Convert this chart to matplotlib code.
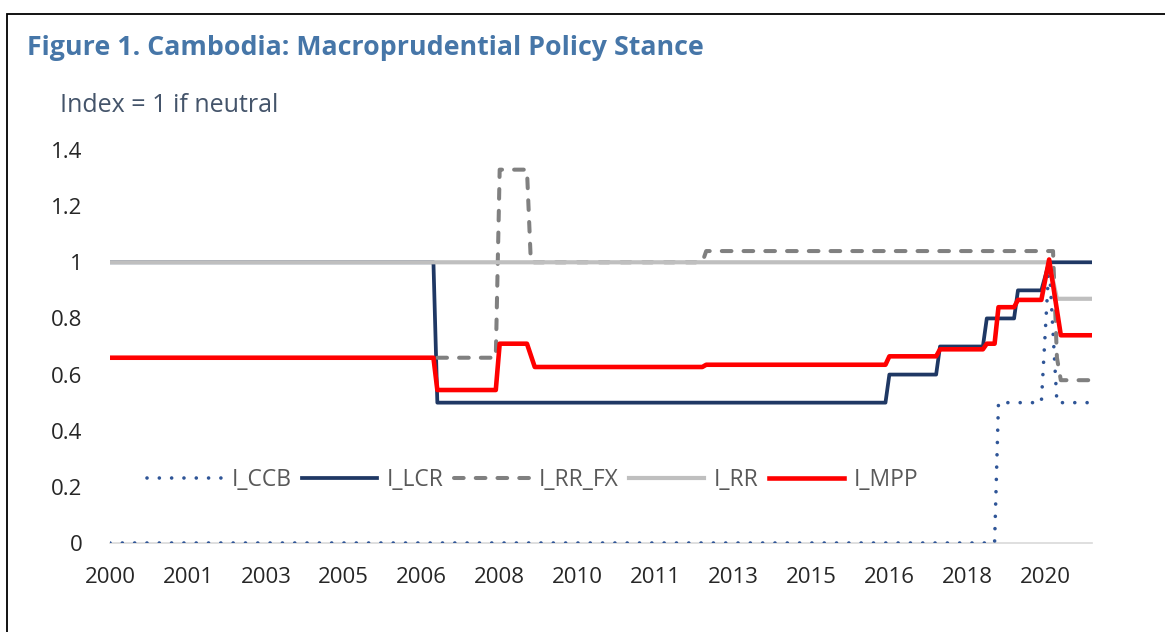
import numpy as np
import pandas as pd
import matplotlib
matplotlib.use('Agg')
import matplotlib.pyplot as plt
from matplotlib.patches import Rectangle

plt.rcParams['font.family'] = ['Open Sans', 'DejaVu Sans']

# Monthly category axis, Jan 2000 to Jan 2021; every 20th month labelled
start_month = '2000-01'
end_month = '2021-01'
tick_labels = ['2000', '2001', '2003', '2005', '2006', '2008', '2010',
               '2011', '2013', '2015', '2016', '2018', '2020']
tick_every = 20

# corner points of each series (month, value)
ccb_dates = ['2000-01', '2018-12', '2019-01', '2019-12', '2020-02', '2020-04', '2021-01']
ccb_vals = [0, 0, 0.5, 0.5, 1.0, 0.5, 0.5]

lcr_dates = ['2000-01', '2006-12', '2007-01', '2016-08', '2016-09', '2017-09', '2017-10',
             '2018-09', '2018-10', '2019-05', '2019-06', '2019-12', '2020-02', '2021-01']
lcr_vals = [1, 1, 0.5, 0.5, 0.6, 0.6, 0.7, 0.7, 0.8, 0.8, 0.9, 0.9, 1.0, 1.0]

rrfx_dates = ['2007-01', '2008-04', '2008-05', '2008-12', '2009-01', '2012-09', '2012-10',
              '2020-03', '2020-04', '2020-05', '2021-01']
rrfx_vals = [0.66, 0.66, 1.33, 1.33, 1.0, 1.0, 1.04, 1.04, 0.66, 0.58, 0.58]

rr_dates = ['2000-01', '2020-02', '2020-04', '2021-01']
rr_vals = [1, 1, 0.87, 0.87]

mpp_dates = ['2000-01', '2006-12', '2007-01', '2008-04', '2008-05', '2008-12', '2009-02',
             '2012-09', '2012-10', '2016-08', '2016-09', '2017-09', '2017-10', '2018-09',
             '2018-10', '2018-12', '2019-01', '2019-05', '2019-06', '2019-12', '2020-02',
             '2020-05', '2021-01']
mpp_vals = [0.66, 0.66, 0.545, 0.545, 0.71, 0.71, 0.627, 0.627, 0.635, 0.635, 0.665,
            0.665, 0.69, 0.69, 0.71, 0.71, 0.84, 0.84, 0.866, 0.866, 1.01, 0.74, 0.74]

y_ticks = [0, 0.2, 0.4, 0.6, 0.8, 1, 1.2, 1.4]
y_labels = ['0', '0.2', '0.4', '0.6', '0.8', '1', '1.2', '1.4']


def month_index(dates):
    p = pd.PeriodIndex(dates, freq='M')
    p0 = pd.Period(start_month, freq='M')
    return np.array([(d - p0).n for d in p])


W, H = 1165, 632
fig = plt.figure(figsize=(W / 100, H / 100), dpi=100)
ax = fig.add_axes([110 / W, (H - 543) / H, (1092 - 110) / W, (543 - 150) / H])

ax.plot(month_index(ccb_dates), ccb_vals, color='#2F5597', lw=2.6,
        dashes=(0.01, 3.4), dash_capstyle='round', label='I_CCB')
ax.plot(month_index(lcr_dates), lcr_vals, color='#1F3864', lw=2.7, label='I_LCR')
ax.plot(month_index(rrfx_dates), rrfx_vals, color='#808080', lw=2.9,
        dashes=(2.4, 3.0), dash_capstyle='round', label='I_RR_FX')
ax.plot(month_index(rr_dates), rr_vals, color='#BFBFBF', lw=3.0, label='I_RR')
ax.plot(month_index(mpp_dates), mpp_vals, color='#FF0000', lw=3.3, label='I_MPP')

n_months = month_index([end_month])[0]
ax.set_xlim(0, n_months)
ax.set_ylim(0, 1.4)
ax.set_xticks(np.arange(len(tick_labels)) * tick_every)
ax.set_xticklabels(tick_labels)
ax.set_yticks(y_ticks)
ax.set_yticklabels(y_labels)
ax.tick_params(axis='x', length=0, pad=17, labelsize=16, labelcolor='#262626')
ax.tick_params(axis='y', length=0, pad=20, labelsize=16, labelcolor='#262626')

for s in ['top', 'right', 'left']:
    ax.spines[s].set_visible(False)
ax.spines['bottom'].set_color('#D9D9D9')
ax.spines['bottom'].set_linewidth(1.2)
ax.spines['bottom'].set_zorder(0)

leg = ax.legend(loc='center', bbox_to_anchor=(0.43, 0.16), ncol=5, frameon=False,
                fontsize=16.5, handlelength=3.3, handletextpad=0.4, columnspacing=0.45)
for t in leg.get_texts():
    t.set_color('#595959')

fig.text(27 / W, 1 - 48 / H, 'Figure 1. Cambodia: Macroprudential Policy Stance',
         fontsize=19.3, fontweight='bold', color='#4676A8', va='center', ha='left')
fig.text(60 / W, 1 - 105 / H, 'Index = 1 if neutral', fontsize=18,
         color='#44546A', va='center', ha='left')

fig.patches.append(Rectangle((7 / W, -0.05), 1.0, 1 - 14 / H + 0.05,
                             transform=fig.transFigure, fill=False,
                             edgecolor='#000000', lw=1.3))

fig.savefig('out.png', dpi=100)
